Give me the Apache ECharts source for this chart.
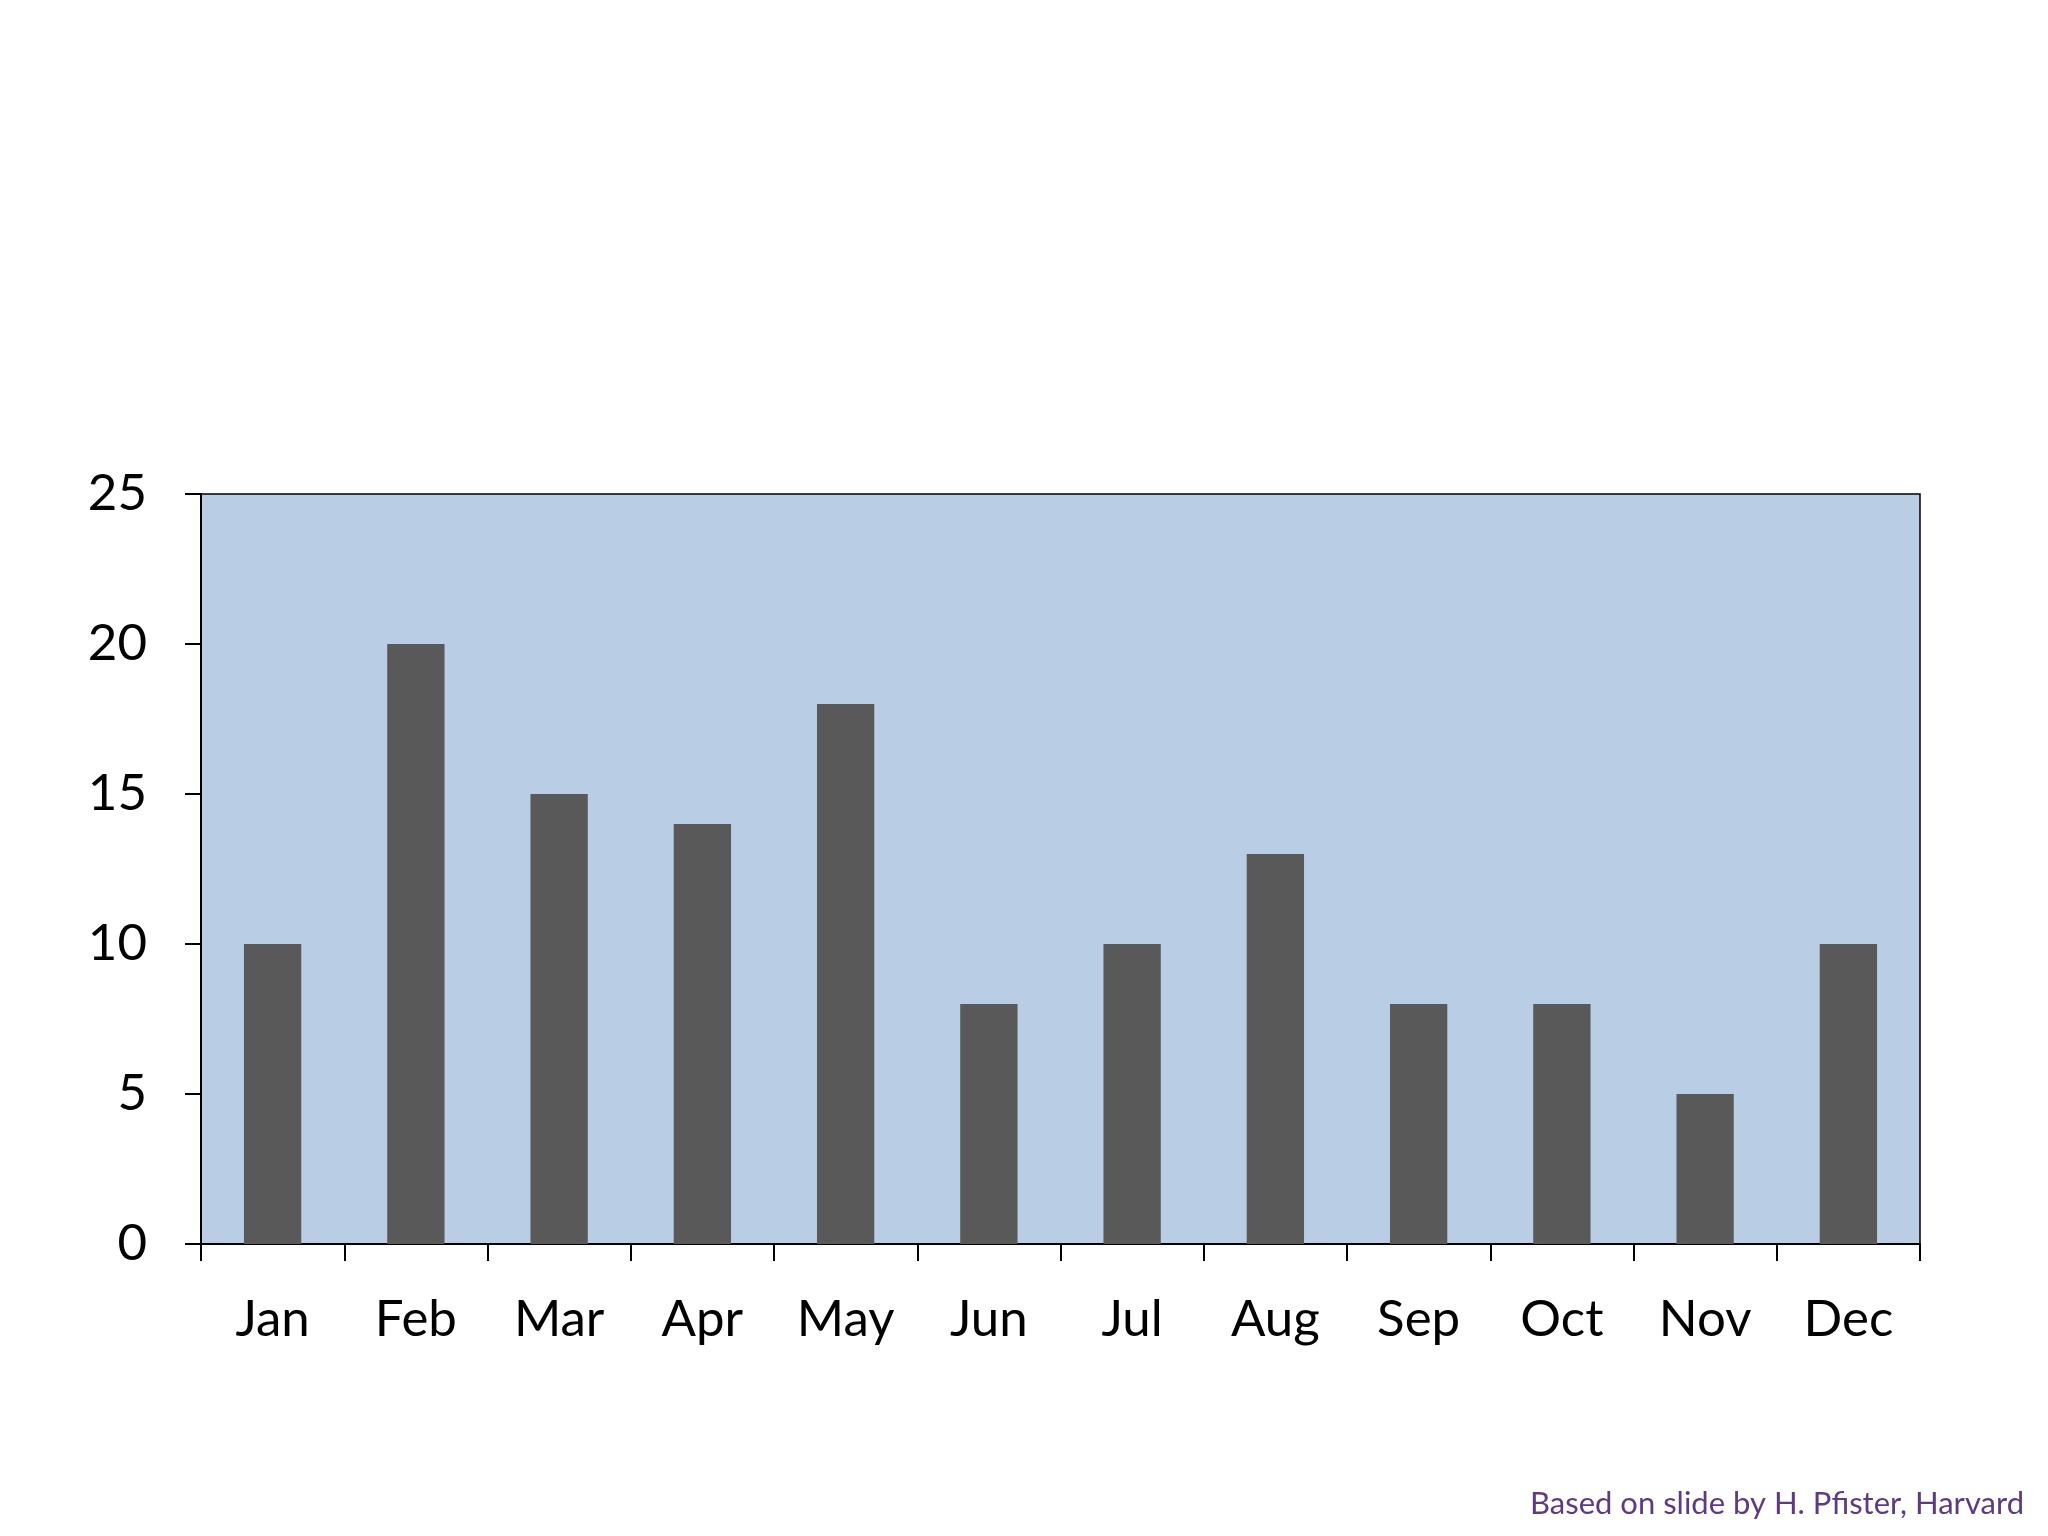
<!DOCTYPE html>
<html>
<head>
<meta charset="utf-8">
<script src="https://cdn.jsdelivr.net/npm/echarts@6/dist/echarts.min.js"></script>
<style>
html,body{margin:0;padding:0;background:#fff;}
#c{width:2048px;height:1536px;}
</style>
</head>
<body>
<div id="c"></div>
<script>
const categories = ['Jan','Feb','Mar','Apr','May','Jun','Jul','Aug','Sep','Oct','Nov','Dec'];
const values = [10,20,15,14,18,8,10,13,8,8,5,10];
const yTicks = [0,5,10,15,20,25];
const footerText = 'Based on slide by H. Pfister, Harvard';

const chart = echarts.init(document.getElementById('c'));
chart.setOption({
  backgroundColor: '#ffffff',
  animation: false,
  grid: {
    left: 201, right: 128, top: 494, bottom: 292,
    show: true, backgroundColor: '#B9CDE5', borderColor: '#000', borderWidth: 1.5
  },
  graphic: [{
    type: 'text', right: 24, top: 1488,
    style: { text: footerText, fill: '#5F3A80', font: '31px Lato', textAlign: 'right' }
  }],
  xAxis: {
    type: 'category', data: categories,
    axisLine: { lineStyle: { color: '#000', width: 2 } },
    axisTick: { show: true, length: 17, alignWithLabel: false, lineStyle: { color: '#000', width: 2 } },
    axisLabel: { color: '#000', fontFamily: 'Lato', fontSize: 51, margin: 50 },
    splitLine: { show: false }
  },
  yAxis: {
    type: 'value', min: yTicks[0], max: yTicks[yTicks.length-1], interval: 5,
    axisLine: { show: true, lineStyle: { color: '#000', width: 2 } },
    axisTick: { show: true, length: 16, lineStyle: { color: '#000', width: 2 } },
    axisLabel: { color: '#000', fontFamily: 'Lato', fontSize: 51, margin: 54 },
    splitLine: { show: false }
  },
  series: [{
    type: 'bar', data: values, barCategoryGap: '60%',
    itemStyle: { color: '#595959' }
  }]
});
</script>
</body>
</html>
